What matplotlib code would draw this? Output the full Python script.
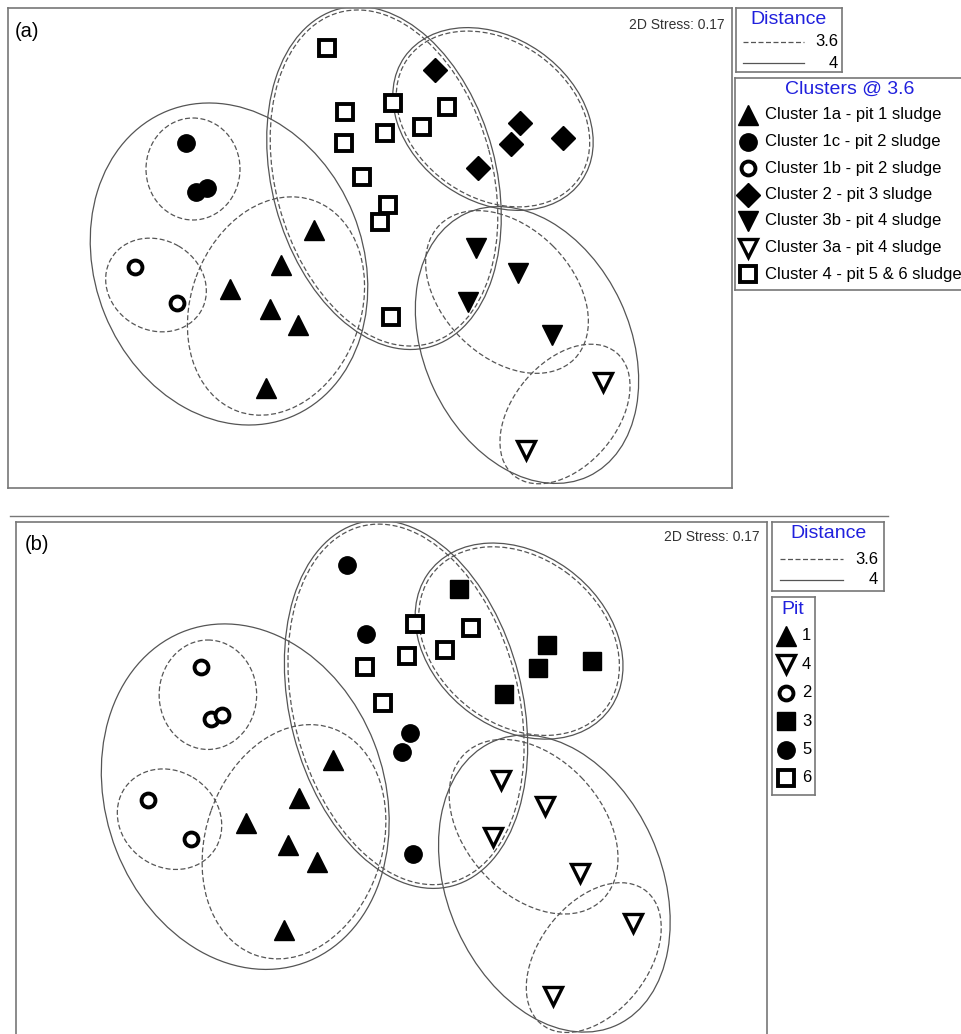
import matplotlib.pyplot as plt
import numpy as np
from matplotlib.patches import Ellipse
from matplotlib.lines import Line2D

plt.rcParams['font.family'] = ['Liberation Sans', 'DejaVu Sans']

W, H = 962, 1034

# nMDS coordinates of the samples (arbitrary units, y grows downwards)
c1a_x = [314, 281, 230, 270, 298, 266]
c1a_y = [230, 265, 289, 309, 325, 388]
c1c_x = [186, 196, 207]
c1c_y = [143, 192, 188]
c1b_x = [135, 177]
c1b_y = [267, 303]
c2_x = [435, 520, 511, 563, 478]
c2_y = [70, 123, 144, 138, 168]
c3b_x = [476, 518, 468, 552]
c3b_y = [248, 273, 302, 335]
c3a_x = [603, 526]
c3a_y = [382, 450]
pit5_x = [327, 345, 388, 380, 391]
pit5_y = [48, 112, 205, 222, 317]
pit6_x = [393, 385, 344, 362, 422, 447]
pit6_y = [103, 133, 143, 177, 127, 107]

cluster_labels = ['Cluster 1a - pit 1 sludge', 'Cluster 1c - pit 2 sludge',
                  'Cluster 1b - pit 2 sludge', 'Cluster 2 - pit 3 sludge',
                  'Cluster 3b - pit 4 sludge', 'Cluster 3a - pit 4 sludge',
                  'Cluster 4 - pit 5 & 6 sludge']
pit_labels = ['1', '4', '2', '3', '5', '6']
distance_labels = ['3.6', '4']
stress = 0.17

# cluster outlines: centre x, centre y, width, height, angle, distance level
outline_cx = [229, 193, 156, 276, 384, 384, 493, 493, 527, 507, 565]
outline_cy = [264, 169, 285, 306, 178, 178, 119, 119, 345, 292, 414]
outline_w = [330, 94, 104, 224, 350, 343, 216, 209, 290, 190, 160]
outline_h = [268, 102, 90, 170, 224, 217, 164, 157, 206, 130, 104]
outline_ang = [68, 0, 30, -70, 75, 75, 35, 35, 65, 45, -50]
outline_lvl = ['4', '3.6', '3.6', '3.6', '4', '3.6', '4', '3.6', '4', '3.6', '3.6']

# marker styles
TRI = dict(marker='^', color='black', ms=14, mec='black')
DOT = dict(marker='o', color='black', ms=12.5, mec='black')
RING = dict(marker='o', mfc='white', mec='black', mew=2.8, ms=10)
DIA = dict(marker='D', color='black', ms=12, mec='black')
VTRI = dict(marker='v', color='black', ms=14, mec='black')
OVTRI = dict(marker='v', mfc='white', mec='black', mew=2.4, ms=13)
OSQ = dict(marker='s', mfc='white', mec='black', mew=2.8, ms=11.5)
SQ = dict(marker='s', color='black', ms=13.5, mec='black')

line_styles = {'3.6': dict(color='#555555', lw=0.9, ls=(0, (4, 2))),
               '4': dict(color='#555555', lw=0.9, ls='-')}
BLUE = '#2020dd'
EDGE = '#777777'


def px_axes(fig, x0, y0, x1, y1):
    ax = fig.add_axes([x0 / W, 1 - y1 / H, (x1 - x0) / W, (y1 - y0) / H])
    ax.set_xticks([])
    ax.set_yticks([])
    for s in ax.spines.values():
        s.set_edgecolor(EDGE)
        s.set_linewidth(1.2)
    return ax


def draw_outlines(ax):
    for cx, cy, w, h, a, lv in zip(outline_cx, outline_cy, outline_w, outline_h,
                                   outline_ang, outline_lvl):
        st = line_styles[lv]
        ax.add_patch(Ellipse((cx, cy), w, h, angle=a, fill=False,
                             edgecolor=st['color'], lw=st['lw'], ls=st['ls']))


def mds_axes(fig, box):
    ax = px_axes(fig, *box)
    ax.set_xlim(8, 732)
    ax.set_ylim(488, 8)
    draw_outlines(ax)
    return ax


fig = plt.figure(figsize=(W / 100, H / 100), dpi=100)

# ---- panel (a): clusters
ax1 = mds_axes(fig, (8, 8, 732, 488))
groups_a = [(c1a_x, c1a_y, TRI), (c1c_x, c1c_y, DOT), (c1b_x, c1b_y, RING),
            (c2_x, c2_y, DIA), (c3b_x, c3b_y, VTRI), (c3a_x, c3a_y, OVTRI),
            (pit5_x + pit6_x, pit5_y + pit6_y, OSQ)]
for gx, gy, st in groups_a:
    ax1.plot(gx, gy, ls='none', **st)
ax1.text(0.01, 0.97, '(a)', transform=ax1.transAxes, fontsize=14.5, va='top')
ax1.text(0.99, 0.98, '2D Stress: %.2f' % stress, transform=ax1.transAxes,
         fontsize=10, ha='right', va='top', color='#333333')

# ---- panel (b): pits
ax2 = mds_axes(fig, (16, 522, 767, 1037))
groups_b = [(c1a_x, c1a_y, TRI), (c3b_x + c3a_x, c3b_y + c3a_y, OVTRI),
            (c1c_x + c1b_x, c1c_y + c1b_y, RING), (c2_x, c2_y, SQ),
            (pit5_x, pit5_y, DOT), (pit6_x, pit6_y, OSQ)]
for gx, gy, st in groups_b:
    ax2.plot(gx, gy, ls='none', **st)
ax2.text(0.012, 0.975, '(b)', transform=ax2.transAxes, fontsize=14.5, va='top')
ax2.text(0.99, 0.985, '2D Stress: %.2f' % stress, transform=ax2.transAxes,
         fontsize=10, ha='right', va='top', color='#333333')

fig.add_artist(Line2D([10 / W, 888 / W], [1 - 516 / H] * 2, color=EDGE, lw=1))


# ---- legends
def distance_legend(x0, y0, x1, y1, lx0, lx1, ly, label_x):
    ax = px_axes(fig, x0, y0, x1, y1)
    ax.set_xlim(x0, x1)
    ax.set_ylim(y1, y0)
    ax.text((x0 + x1) / 2, y0 + 12, 'Distance', color=BLUE, fontsize=14,
            ha='center', va='center')
    for i, lab in enumerate(distance_labels):
        st = line_styles[lab]
        ax.plot([lx0, lx1], [ly[i]] * 2, color=st['color'], lw=st['lw'], ls=st['ls'])
        ax.text(label_x, ly[i], lab, fontsize=12, ha='right', va='center')


def marker_legend(x0, y0, x1, y1, title, title_x, title_y, labels, styles,
                  mx, tx, iy0, step):
    ax = px_axes(fig, x0, y0, x1, y1)
    ax.set_xlim(x0, x1)
    ax.set_ylim(y1, y0)
    ax.text(title_x, title_y, title, color=BLUE, fontsize=14, ha='center', va='center')
    for i, (lab, st) in enumerate(zip(labels, styles)):
        y = iy0 + i * step
        ax.plot([mx], [y], ls='none', **st)
        ax.text(tx, y, lab, fontsize=12, ha='left', va='center')


distance_legend(736, 8, 842, 72, 743, 804, [42, 63], 838)
marker_legend(735, 78, 966, 290, 'Clusters @ 3.6', 850, 89, cluster_labels,
              [g[2] for g in groups_a], 748, 765, 115, 26.5)

distance_legend(772, 522, 884, 591, 780, 843, [559, 580], 878)
marker_legend(772, 597, 815, 795, 'Pit', 793, 609, pit_labels,
              [g[2] for g in groups_b], 786, 802, 636, 28.4)

fig.savefig('out.png', dpi=100)
